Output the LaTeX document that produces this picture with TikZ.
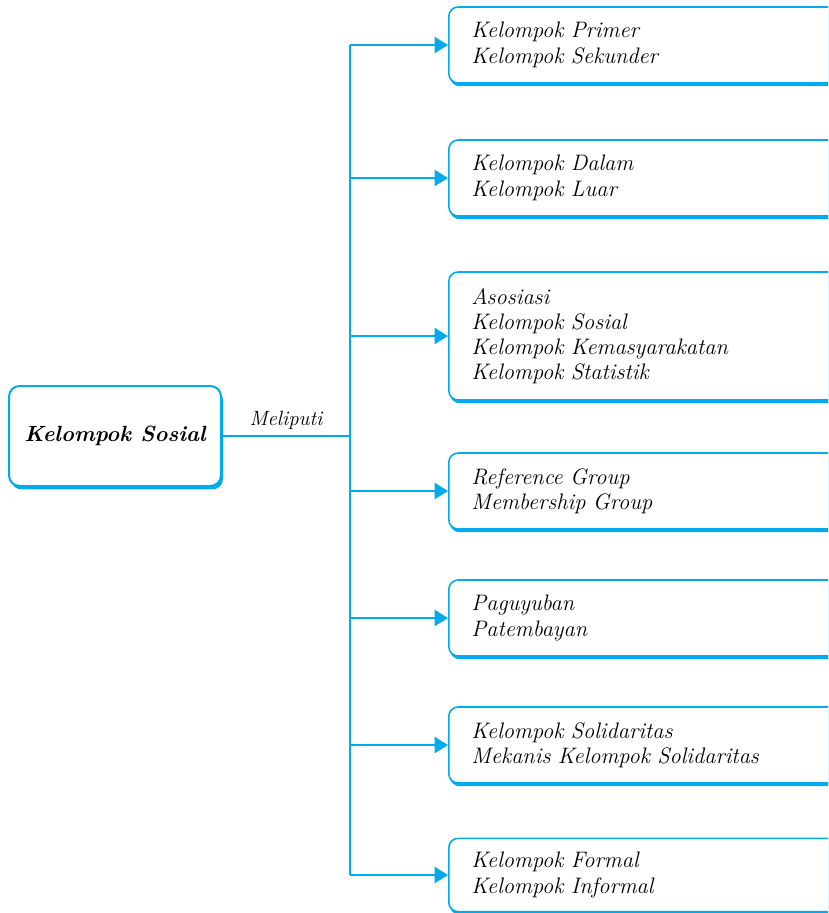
\documentclass[tikz,border=0pt]{standalone}
\usepackage{tikz}
\usetikzlibrary{arrows.meta,shadows}
\definecolor{sosblue}{RGB}{0,170,236}

\begin{document}
\begin{tikzpicture}[x=0.75pt,y=0.75pt,yscale=-1,xscale=1,
    groupbox/.style={draw=sosblue, line width=1.2pt, rounded corners=7pt, fill=white,
      drop shadow={shadow xshift=1pt, shadow yshift=-2.4pt, fill=sosblue, opacity=1},
      anchor=west, minimum width=320pt, minimum height=57pt, text width=286pt,
      inner xsep=17pt, align=left, font=\fontsize{16.8}{18.9}\selectfont\itshape},
    rootbox/.style={draw=sosblue, line width=1.5pt, rounded corners=8pt, fill=white,
      drop shadow={shadow xshift=1.5pt, shadow yshift=-2.6pt, fill=sosblue, opacity=1},
      minimum width=159pt, minimum height=75pt, align=center,
      font=\fontsize{16.5}{19}\selectfont\bfseries\itshape},
    link/.style={draw=sosblue, line width=1.6pt},
    arrowlink/.style={link, -{Triangle[length=10pt,width=12pt]}}
  ]
    \useasboundingbox (0,0) rectangle (828,913);
    \clip (0,0) rectangle (828,913);

    %Root box
    \node [rootbox] (root) at (115,436) {Kelompok Sosial};
    \coordinate (hub) at (350,436);

    %Group boxes
    \node [groupbox] (g1) at (448,45) {Kelompok Primer\\Kelompok Sekunder};
    \node [groupbox] (g2) at (448,178) {Kelompok Dalam\\Kelompok Luar};
    \node [groupbox, minimum height=96pt] (g3) at (448,336) {Asosiasi\\Kelompok Sosial\\Kelompok Kemasyarakatan\\Kelompok Statistik};
    \node [groupbox] (g4) at (448,491) {Reference Group\\Membership Group};
    \node [groupbox] (g5) at (448,618) {Paguyuban\\Patembayan};
    \node [groupbox] (g6) at (448,745) {Kelompok Solidaritas\\Mekanis Kelompok Solidaritas};
    \node [groupbox, minimum height=55pt] (g7) at (448,875) {Kelompok Formal\\Kelompok Informal};

    %Connectors
    \draw [link] (root.east) -- node [above=1pt, font=\fontsize{15.5}{18}\selectfont\itshape] {Meliputi} (hub);
    \draw [link] (hub |- g1.west) -- (hub |- g7.west);
    \draw [arrowlink] (hub |- g1.west) -- (g1.west);
    \draw [arrowlink] (hub |- g2.west) -- (g2.west);
    \draw [arrowlink] (hub |- g3.west) -- (g3.west);
    \draw [arrowlink] (hub |- g4.west) -- (g4.west);
    \draw [arrowlink] (hub |- g5.west) -- (g5.west);
    \draw [arrowlink] (hub |- g6.west) -- (g6.west);
    \draw [arrowlink] (hub |- g7.west) -- (g7.west);
\end{tikzpicture}
\end{document}
